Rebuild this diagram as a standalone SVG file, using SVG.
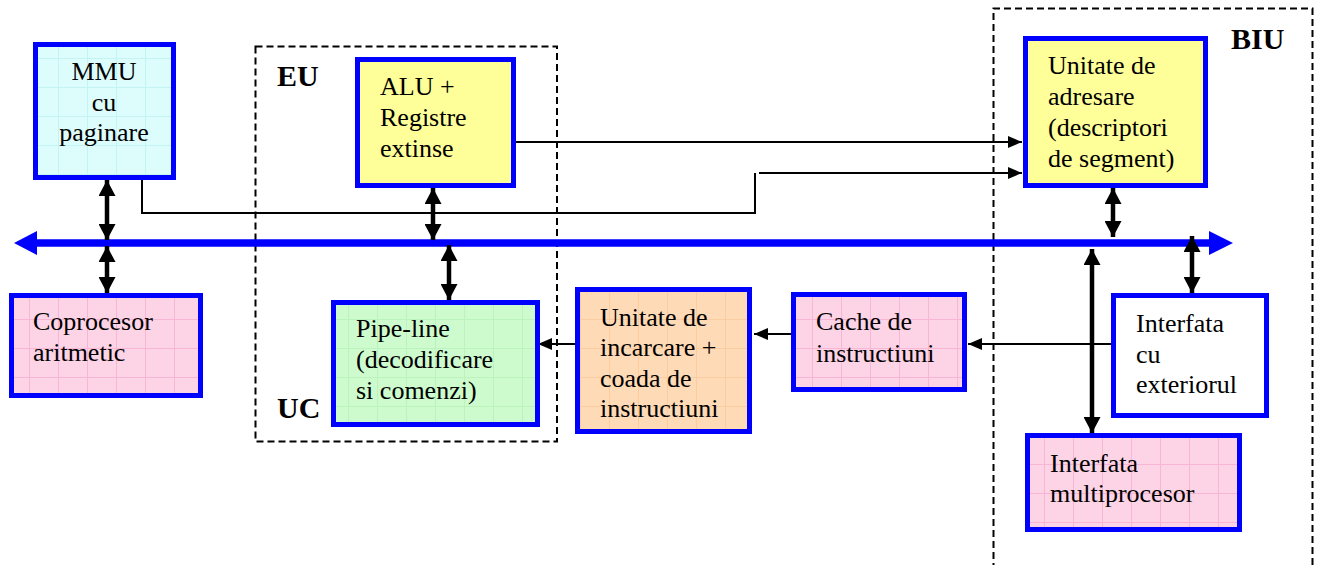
<svg xmlns="http://www.w3.org/2000/svg" width="1323" height="565" viewBox="0 0 1323 565">
<style>
.box{stroke:#0000ff;stroke-width:5}
.t{font-family:"Liberation Serif","Times New Roman",serif;font-size:26px;fill:#000}
.lbl{font-family:"Liberation Serif","Times New Roman",serif;font-size:30px;font-weight:bold;fill:#000}
.dash{fill:none;stroke:#000;stroke-width:2;stroke-dasharray:7 4}
.thin{fill:none;stroke:#000;stroke-width:2}
.thick{fill:none;stroke:#000;stroke-width:4.5}
</style>
<defs>
<pattern id="gPink" patternUnits="userSpaceOnUse" width="29" height="29">
<rect width="29" height="29" fill="#fdd3e6"/>
<path d="M0 0.5H29M0.5 0V29" stroke="#f9b5d6" stroke-width="1"/>
</pattern>
<pattern id="gCyan" patternUnits="userSpaceOnUse" width="29" height="29">
<rect width="29" height="29" fill="#ddfcfc"/>
<path d="M0 0.5H29M0.5 0V29" stroke="#c2f4f4" stroke-width="1"/>
</pattern>
<pattern id="gGreen" patternUnits="userSpaceOnUse" width="29" height="29">
<rect width="29" height="29" fill="#cdfbcd"/>
<path d="M0 0.5H29M0.5 0V29" stroke="#bcf2bc" stroke-width="1"/>
</pattern>
<pattern id="gOrange" patternUnits="userSpaceOnUse" width="29" height="29">
<rect width="29" height="29" fill="#fedab7"/>
<path d="M0 0.5H29M0.5 0V29" stroke="#facc9f" stroke-width="1"/>
</pattern>
<marker id="ah" markerUnits="userSpaceOnUse" markerWidth="14" markerHeight="12" refX="14" refY="6" orient="auto">
<path d="M0,0 L14,6 L0,12 z" fill="#000"/>
</marker>
<marker id="ahT" markerUnits="userSpaceOnUse" markerWidth="16" markerHeight="17" refX="16" refY="8.5" orient="auto-start-reverse">
<path d="M0,0 L16,8.5 L0,17 z" fill="#000"/>
</marker>
</defs>

<rect width="1323" height="565" fill="#fff"/>

<g id="EU-UC-group">
<rect class="dash" x="255.5" y="46.5" width="301.5" height="395"/>
<text class="lbl" x="277" y="86">EU</text>
<text class="lbl" x="277" y="418">UC</text>
</g>
<g id="BIU-group">
<path class="dash" d="M993.5,570 V8.5 H1312.5 V570"/>
<text class="lbl" x="1231" y="49">BIU</text>
</g>

<g id="bus">
<line x1="34" y1="243" x2="1212" y2="243" stroke="#0000ff" stroke-width="7.5"/>
<polygon points="14,243 37,231 37,255" fill="#0000ff"/>
<polygon points="1233,243 1209,231 1209,255" fill="#0000ff"/>
</g>

<g id="connectors">
<path class="thin" d="M516,142 H1022" marker-end="url(#ah)"/>
<path class="thin" d="M142,180 V213 H755 V173"/>
<path class="thin" d="M759,173 H1022" marker-end="url(#ah)"/>
<path class="thin" d="M1111,344 H968" marker-end="url(#ah)"/>
<path class="thin" d="M791,334 H754" marker-end="url(#ah)"/>
<path class="thin" d="M575,344 H538" marker-end="url(#ah)"/>
<line class="thick" x1="107" y1="180" x2="107" y2="240" marker-start="url(#ahT)" marker-end="url(#ahT)"/>
<line class="thick" x1="107" y1="246" x2="107" y2="293" marker-start="url(#ahT)" marker-end="url(#ahT)"/>
<line class="thick" x1="433" y1="188" x2="433" y2="240" marker-start="url(#ahT)" marker-end="url(#ahT)"/>
<line class="thick" x1="449" y1="245" x2="449" y2="300" marker-start="url(#ahT)" marker-end="url(#ahT)"/>
<line class="thick" x1="1113" y1="188" x2="1113" y2="237" marker-start="url(#ahT)" marker-end="url(#ahT)"/>
<line class="thick" x1="1192" y1="236" x2="1192" y2="293" marker-start="url(#ahT)" marker-end="url(#ahT)"/>
<line class="thick" x1="1092" y1="249" x2="1092" y2="433" marker-start="url(#ahT)" marker-end="url(#ahT)"/>
</g>

<g id="mmu">
<rect class="box" x="35.5" y="44.5" width="138" height="133" fill="url(#gCyan)"/>
<text class="t" text-anchor="middle"><tspan x="104" y="80">MMU</tspan><tspan x="104" y="111">cu</tspan><tspan x="104" y="141">paginare</tspan></text>
</g>
<g id="alu">
<rect class="box" x="357.5" y="59.5" width="156" height="126" fill="#ffff99"/>
<text class="t"><tspan x="380" y="95">ALU +</tspan><tspan x="380" y="126">Registre</tspan><tspan x="380" y="157">extinse</tspan></text>
</g>
<g id="adresare">
<rect class="box" x="1025.5" y="38.5" width="180" height="147" fill="#ffff99"/>
<text class="t"><tspan x="1048" y="74">Unitate de</tspan><tspan x="1048" y="105">adresare</tspan><tspan x="1048" y="136">(descriptori</tspan><tspan x="1048" y="167">de segment)</tspan></text>
</g>
<g id="coprocesor">
<rect class="box" x="11.5" y="295.5" width="189" height="100" fill="url(#gPink)"/>
<text class="t"><tspan x="33" y="330">Coprocesor</tspan><tspan x="33" y="361">aritmetic</tspan></text>
</g>
<g id="pipeline">
<rect class="box" x="333.5" y="302.5" width="204" height="122" fill="url(#gGreen)"/>
<text class="t"><tspan x="356" y="337">Pipe-line</tspan><tspan x="356" y="368">(decodificare</tspan><tspan x="356" y="399">si comenzi)</tspan></text>
</g>
<g id="incarcare">
<rect class="box" x="577.5" y="289.5" width="172" height="142" fill="url(#gOrange)"/>
<text class="t"><tspan x="600" y="326">Unitate de</tspan><tspan x="600" y="356">incarcare +</tspan><tspan x="600" y="387">coada de</tspan><tspan x="600" y="417">instructiuni</tspan></text>
</g>
<g id="cache">
<rect class="box" x="793.5" y="294.5" width="171" height="95" fill="url(#gPink)"/>
<text class="t"><tspan x="816" y="330">Cache de</tspan><tspan x="816" y="362">instructiuni</tspan></text>
</g>
<g id="interfata-ext">
<rect class="box" x="1113.5" y="295.5" width="153" height="120" fill="#fff"/>
<text class="t"><tspan x="1136" y="332">Interfata</tspan><tspan x="1136" y="363">cu</tspan><tspan x="1136" y="393">exteriorul</tspan></text>
</g>
<g id="interfata-multi">
<rect class="box" x="1027.5" y="435.5" width="212" height="94" fill="url(#gPink)"/>
<text class="t"><tspan x="1050" y="472">Interfata</tspan><tspan x="1050" y="502">multiprocesor</tspan></text>
</g>
</svg>
